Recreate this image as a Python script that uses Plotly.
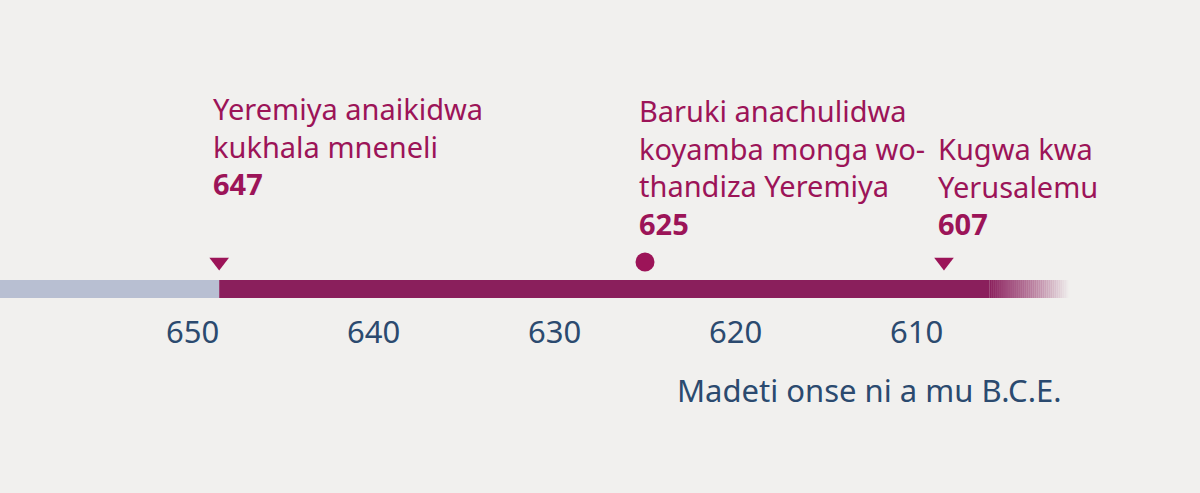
import plotly.graph_objects as go

tick_years = [650, 640, 630, 620, 610]
event_years = ["647", "625", "607"]
event_pos = [648.5, 625.0, 608.5]
event_symbols = ["triangle-down", "circle", "triangle-down"]
event_texts = ["Yeremiya anaikidwa<br>kukhala mneneli",
               "Baruki anachulidwa<br>koyamba monga wo-<br>thandiza Yeremiya",
               "Kugwa kwa<br>Yerusalemu"]
bar_start, bar_split, bar_solid_end, bar_end = 660.6, 648.5, 606.0, 601.6
footnote = "Madeti onse ni a mu B.C.E."

W, H = 1200, 493
PX = 18.12
X0 = 650 + 192 / PX
def xd(px): return X0 - px / PX
def yd(py): return 1 - py / H

MAG = "#9c1458"
BAR = "#8a1f5c"
NAVY = "#2b4a6f"
FONT = "Noto Sans"

fig = go.Figure()
shapes = []
y0, y1 = yd(298), yd(280)
shapes.append(dict(type="rect", x0=bar_start, x1=bar_split, y0=y0, y1=y1, fillcolor="#b8bfd2", line_width=0))
shapes.append(dict(type="rect", x0=bar_split, x1=bar_solid_end, y0=y0, y1=y1, fillcolor=BAR, line_width=0))
n = 40
step = (bar_solid_end - bar_end) / n
for i in range(n):
    shapes.append(dict(type="rect", x0=bar_solid_end - i * step, x1=bar_solid_end - (i + 1) * step - 0.02,
                       y0=y0, y1=y1, fillcolor=BAR, opacity=1 - (i + 0.5) / n, line_width=0))

fig.add_trace(go.Scatter(x=event_pos, y=[yd(262)] * 3, mode="markers",
                         marker=dict(symbol=event_symbols, size=[17, 19, 17], color=MAG,
                                     opacity=1, line=dict(width=0)),
                         hoverinfo="skip", showlegend=False))

ann = []
for t in tick_years:
    ann.append(dict(x=t, y=yd(331), text=str(t), showarrow=False, xanchor="center", yanchor="middle",
                    font=dict(family=FONT, size=31, color=NAVY)))
bottoms = [205, 245, 245]
for pos, yr, txt, b in zip(event_pos, event_years, event_texts, bottoms):
    ann.append(dict(x=pos + 8 / PX, y=yd(b), text=txt + "<br><b>" + yr + "</b>", showarrow=False,
                    xanchor="left", yanchor="bottom", align="left",
                    font=dict(family=FONT, size=29, color=MAG)))
ann.append(dict(x=xd(1064), y=yd(390), text=footnote, showarrow=False, xanchor="right", yanchor="middle",
                font=dict(family=FONT, size=31, color=NAVY)))

fig.update_layout(width=W, height=H, margin=dict(l=0, r=0, t=0, b=0),
                  paper_bgcolor="#f1f0ee", plot_bgcolor="#f1f0ee",
                  xaxis=dict(range=[X0, xd(W)], visible=False, fixedrange=True),
                  yaxis=dict(range=[0, 1], visible=False, fixedrange=True),
                  shapes=shapes, annotations=ann)
fig.write_html("out.html", config={"displayModeBar": False},
               post_script="document.body.style.margin='0';document.body.style.background='#f1f0ee';")
